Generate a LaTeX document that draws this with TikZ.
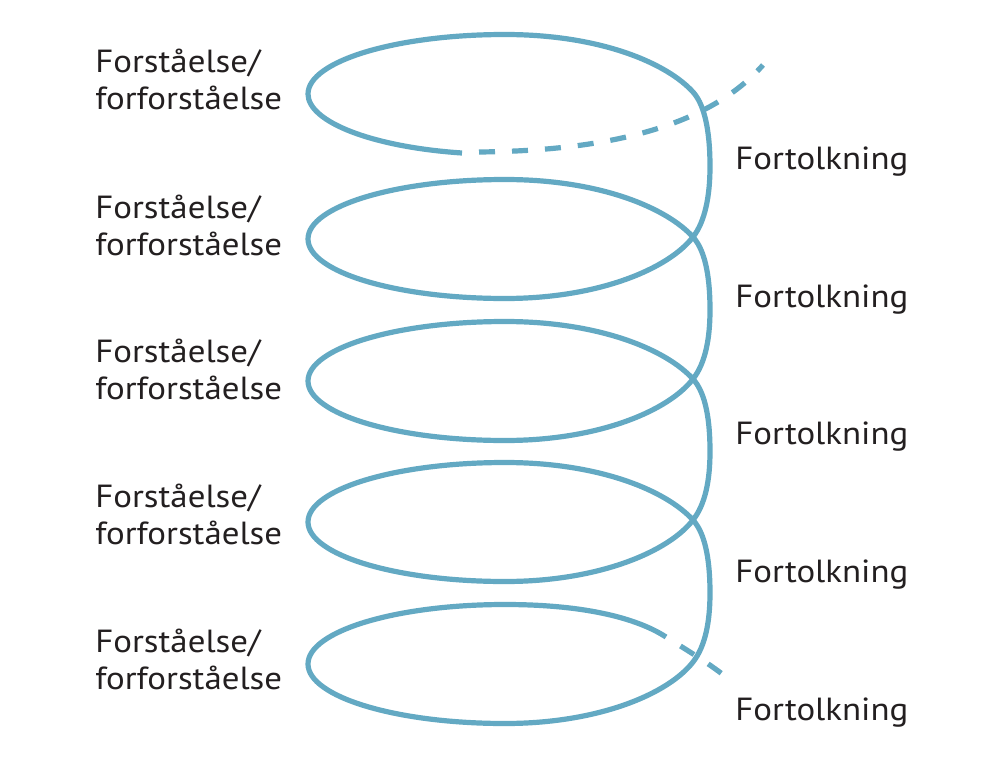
\documentclass[tikz,border=0pt]{standalone}
\usepackage{fontspec}
\setmainfont{PT Sans}[FakeStretch=1.09]
\definecolor{spiralblue}{RGB}{99,169,195}
\definecolor{inkblack}{RGB}{35,31,32}

\begin{document}
\begin{tikzpicture}[x=0.5pt,y=-0.5pt,
	spiral/.style={line width=2.6pt,color=spiralblue},
	dashspiral/.style={spiral,dash pattern=on 8pt off 8.5pt,dash phase=8pt},
	lbl/.style={anchor=base west,inner sep=0pt,text=inkblack,font=\fontsize{16}{19}\selectfont}]
	\fill[white] (0,0) rectangle (1000,760);
	% dashed start and end of the spiral
	\draw[dashspiral] (462,152) .. controls (610,153) and (710,125) .. (763,65);
	\draw[dashspiral] (666,637) .. controls (690,652) and (710,664) .. (730,680);
	% the spiral, one turn per loop
	\draw[spiral] (462,153) .. controls (372,147) and (308,121.8) .. (308,94)
		.. controls (308,61.1) and (396.2,34.5) .. (505,34.5)
		\foreach \yc/\yn in {94/239,239/381,381/522,522/664} {
			.. controls (599,\yc-59.5) and (666,\yc-31.6) .. (693,\yc-2)
			.. controls (706.4,\yc+12.8) and (710,{(\yc+\yn)/2-29}) .. (710,{(\yc+\yn)/2})
			.. controls (710,{(\yc+\yn)/2+29}) and (705.2,\yn-17.6) .. (693,\yn-2)
			.. controls (668.6,\yn+29.6) and (599,\yn+59.5) .. (505,\yn+59.5)
			.. controls (396.2,\yn+59.5) and (308,\yn+32.9) .. (308,\yn)
			.. controls (308,\yn-32.9) and (396.2,\yn-59.5) .. (505,\yn-59.5)
		}
		.. controls (590,604.5) and (640,620) .. (666,637);
	% labels
	\foreach \i/\b in {1/72,2/218,3/362,4/507,5/652} {
		\node[lbl] (forst\i) at (95,\b) {Forståelse/};
		\node[lbl] (forfor\i) at (95,\b+37) {forforståelse};
	}
	\foreach \i/\b in {1/169.5,2/307,3/444.5,4/582,5/720}
		\node[lbl] (tolk\i) at (735,\b) {Fortolkning};
\end{tikzpicture}
\end{document}
